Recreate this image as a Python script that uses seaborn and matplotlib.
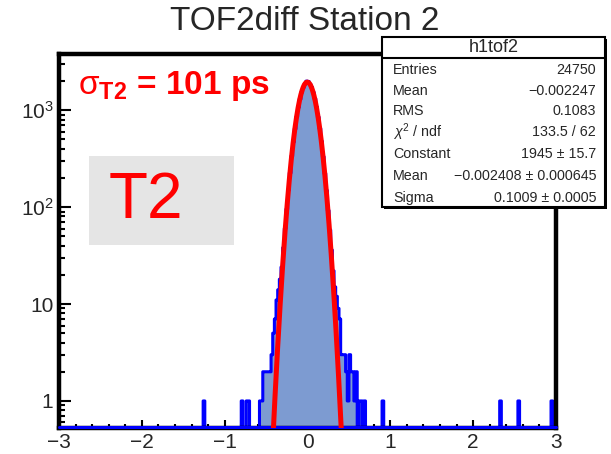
import numpy as np
import pandas as pd
import seaborn as sns
import matplotlib
matplotlib.use("Agg")
import matplotlib.pyplot as plt
from matplotlib.patches import Rectangle
from matplotlib.lines import Line2D
from matplotlib.ticker import FixedLocator, LogLocator, MultipleLocator, NullFormatter, FixedFormatter

sns.set_theme(style="white")
plt.rcParams['font.family'] = ['Liberation Sans', 'DejaVu Sans']
plt.rcParams['mathtext.fontset'] = 'custom'
plt.rcParams['mathtext.rm'] = 'Liberation Sans'
plt.rcParams['mathtext.it'] = 'Liberation Sans:italic'
plt.rcParams['mathtext.bf'] = 'Liberation Sans:bold'

# ---------------- data ----------------
title = "TOF2diff Station 2"
x_range = (-3.0, 3.0)
n_bins = 300
# centres of non-empty bins (bin width 0.02) and their contents
bin_centers = [-1.25, -0.79, -0.73, -0.71, -0.57, -0.55, -0.53, -0.51, -0.49, -0.47,
               -0.45, -0.43, -0.41, -0.39, -0.37, -0.35, -0.33, -0.31, -0.29, -0.27,
               -0.25, -0.23, -0.21, -0.19, -0.17, -0.15, -0.13, -0.11, -0.09, -0.07,
               -0.05, -0.03, -0.01, 0.01, 0.03, 0.05, 0.07, 0.09, 0.11, 0.13,
               0.15, 0.17, 0.19, 0.21, 0.23, 0.25, 0.27, 0.29, 0.31, 0.33,
               0.35, 0.37, 0.39, 0.41, 0.43, 0.45, 0.47, 0.49, 0.51, 0.53,
               0.55, 0.57, 0.59, 0.63, 0.65, 0.69, 0.91, 2.33, 2.55, 2.95]
bin_counts = [1, 1, 1, 1, 1, 1, 2, 2, 2, 2,
              2, 3, 5, 7, 11, 14, 18, 24, 38, 60,
              95, 150, 225, 335, 470, 640, 850, 1070, 1300, 1530,
              1715, 1860, 1990, 1975, 1855, 1720, 1525, 1310, 1075, 845,
              645, 475, 330, 222, 148, 92, 58, 36, 22, 15,
              12, 9, 7, 3, 3, 3, 2, 1, 3, 2,
              2, 1, 2, 1, 1, 1, 1, 1, 1, 1]

fit_constant = 1945.0
fit_mean = -0.002408
fit_sigma = 0.1009

stats_title = "h1tof2"
stats_labels = ["Entries", "Mean", "RMS", r"$\chi^{2}$ / ndf", "Constant", "Mean", "Sigma"]
stats_values = ["24750", "\u22120.002247", "0.1083", "133.5 / 62", "1945 \u00b1 15.7",
                "\u22120.002408 \u00b1 0.000645", "0.1009 \u00b1 0.0005"]

y_ticks = [1, 10, 100, 1000]
y_tick_labels = ["1", "10", r"$\mathregular{10^{2}}$", r"$\mathregular{10^{3}}$"]
x_ticks = [-3, -2, -1, 0, 1, 2, 3]

# ---------------- figure ----------------
fig = plt.figure(figsize=(6.11, 4.54), dpi=100)
ax = fig.add_axes([0.0966, 0.0562, 0.8134, 0.825])
ax.set_yscale('log')

df = pd.DataFrame({"x": bin_centers, "w": bin_counts})
sns.histplot(data=df, x="x", weights="w", bins=n_bins, binrange=x_range,
             element="step", fill=True, ax=ax,
             facecolor="#7d9bd1", edgecolor="#0000ff", linewidth=2.2, alpha=1.0)
for coll in ax.collections:
    coll.set_facecolor("#7d9bd1")
    coll.set_edgecolor("#0000ff")
    coll.set_linewidth(2.2)
    coll.set_alpha(1.0)

xs = np.linspace(x_range[0], x_range[1], 3001)
ys = fit_constant * np.exp(-0.5 * ((xs - fit_mean) / fit_sigma) ** 2)
sns.lineplot(x=xs, y=ys, color="#ff0000", linewidth=3.6, ax=ax, zorder=4)

ax.set_xlim(*x_range)
ax.set_ylim(0.52, 3800)

# empty bins drawn along the bottom like ROOT
ax.plot([0, 1], [0.004, 0.004], transform=ax.transAxes, color="#0000ff",
        lw=2.2, zorder=3, clip_on=False)

ax.set_xlabel("")
ax.set_ylabel("")
for sp in ax.spines.values():
    sp.set_linewidth(3.2)
    sp.set_color("black")
    sp.set_visible(True)

ax.xaxis.set_major_locator(FixedLocator(x_ticks))
ax.xaxis.set_minor_locator(MultipleLocator(0.2))
ax.yaxis.set_major_locator(FixedLocator(y_ticks))
ax.yaxis.set_major_formatter(FixedFormatter(y_tick_labels))
ax.yaxis.set_minor_locator(LogLocator(base=10, subs=np.arange(2, 10), numticks=20))
ax.yaxis.set_minor_formatter(NullFormatter())
ax.tick_params(axis='x', which='major', direction='in', length=6, width=1.5,
               bottom=True, top=False, labelsize=15, pad=3, color='black')
ax.tick_params(axis='x', which='minor', direction='in', length=3, width=1.5,
               bottom=True, top=False, color='black')
ax.tick_params(axis='y', which='major', direction='in', length=8.5, width=1.5,
               left=True, right=False, labelsize=15, pad=4, color='black')
ax.tick_params(axis='y', which='minor', direction='in', length=4.5, width=1.5,
               left=True, right=False, color='black')
ax.grid(False)

# title
fig.text(0.499, 0.952, title, ha='center', va='center', fontsize=24)

# sigma annotation
ax.text(0.038, 0.893, r"$\mathrm{\sigma}_{\mathbf{T2}}$ = 101 ps", transform=ax.transAxes,
        color="#ff0000", fontsize=24, fontweight='bold', ha='left', va='baseline')

# T2 grey box
ax.add_patch(Rectangle((0.060, 0.489), 0.292, 0.238, transform=ax.transAxes,
                       facecolor="#e5e5e5", edgecolor='none', zorder=1))
ax.text(0.099, 0.608, "T2", transform=ax.transAxes, color="#ff0000",
        fontsize=46, ha='left', va='center', zorder=2)

# stats box
W, H = 611.0, 454.0
bx0, bx1, by0, by1 = 382, 605, 37, 207
fig.patches.append(Rectangle((bx0 / W + 2 / W, 1 - by1 / H - 2 / H), (bx1 - bx0) / W, (by1 - by0) / H,
                             transform=fig.transFigure, facecolor='black', edgecolor='none', zorder=9))
fig.patches.append(Rectangle((bx0 / W, 1 - by1 / H), (bx1 - bx0) / W, (by1 - by0) / H,
                             transform=fig.transFigure, facecolor='white', edgecolor='black',
                             linewidth=1.5, zorder=10))
fig.lines.append(Line2D([bx0 / W, bx1 / W], [1 - 58 / H, 1 - 58 / H], transform=fig.transFigure,
                        color='black', linewidth=1.5, zorder=11))
fig.text((bx0 + bx1) / 2 / W, 1 - 48 / H, stats_title, ha='center', va='center',
         fontsize=13, zorder=12)
row_y = [70, 91, 111, 132, 154, 176, 198]
for lab, val, yy in zip(stats_labels, stats_values, row_y):
    fig.text(393 / W, 1 - yy / H, lab, ha='left', va='center', fontsize=10.3, zorder=12)
    fig.text(596 / W, 1 - yy / H, val, ha='right', va='center', fontsize=10.3, zorder=12)

fig.savefig("out.png", dpi=100)
